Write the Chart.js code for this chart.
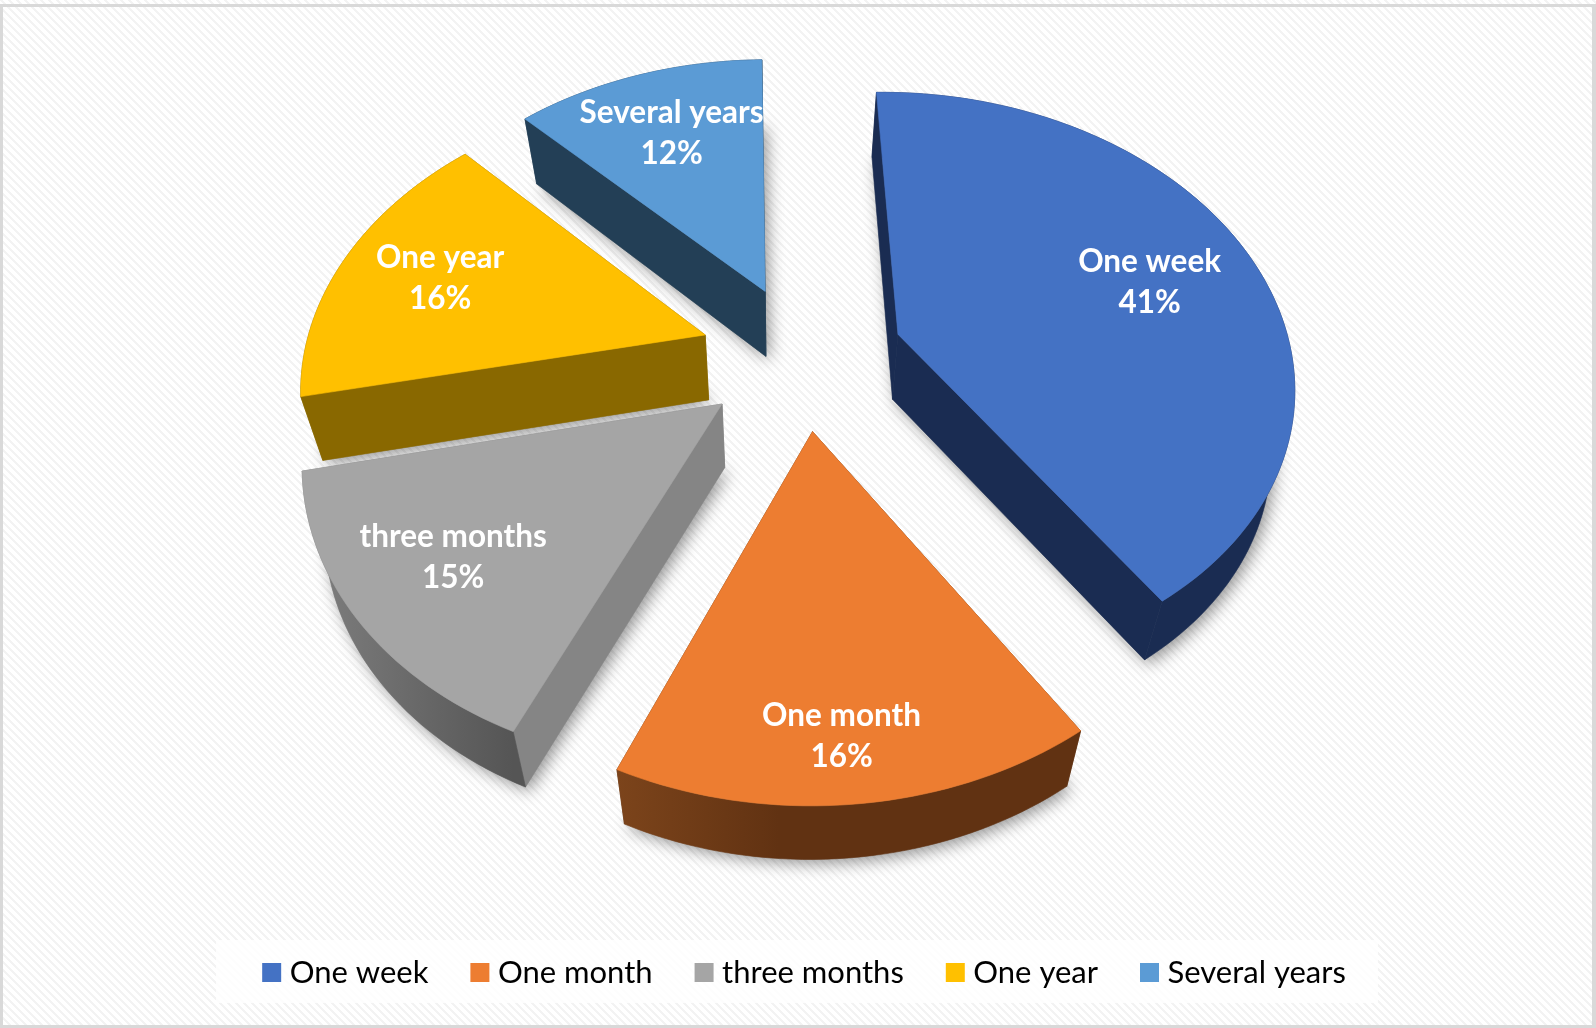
<!DOCTYPE html>
<html><head><meta charset="utf-8">
<style>html,body{margin:0;padding:0;background:#fff}canvas{display:block}</style>
<script src="https://cdn.jsdelivr.net/npm/chart.js@4/dist/chart.umd.js"></script>
</head><body>
<canvas id="c" width="1596" height="1028"></canvas>
<script>
const categories=['One week','One month','three months','One year','Several years'];
const shares=[41,16,15,16,12];
const topColors=['#4472C4','#ED7D31','#A5A5A5','#FFC000','#5B9BD5'];
const sideColors=['#1A2C52','#613212','#858585','#896800','#233F56'];
const rimColorsLeft=['#1A2C52','#7C441B','#808080','#896800','#233F56'];
const rimColorsRight=['#1A2C52','#613212','#555555','#896800','#233F56'];
const explodeOffsets=[76,76,77,78,76];
const labelRadius=[0.70,0.84,0.75,0.73,0.71];
const labelSpread=[0.51,0.52,0.52,0.5,0.5];
const paintOrder=[4,3,2,0,1];

// Perspective of the pie plane, fitted to the picture
const VIEW={cx:803.28,cy:356.05,a:397.48,b:10.12,c:-7,d:287.32,g:0.0102,h:-0.1594};
function project(u,v){
  const w=1+VIEW.g*u+VIEW.h*v;
  return [VIEW.cx+(VIEW.a*u+VIEW.b*v)/w, VIEW.cy+(VIEW.c*u+VIEW.d*v)/w];
}
function extrude(p){
  return [p[0]-0.0462*(p[0]-780), p[1]+65-0.025*Math.max(0,p[1]-350)];
}
function polyPath(ctx,pts){
  ctx.beginPath();
  pts.forEach((p,i)=>i?ctx.lineTo(p[0],p[1]):ctx.moveTo(p[0],p[1]));
  ctx.closePath();
}
function geometry(el){
  const R=el.outerRadius,m=(el.startAngle+el.endAngle)/2,o=(el.options.offset||0)/R;
  const ou=o*Math.cos(m),ov=o*Math.sin(m);
  const at=(r,t)=>project(ou+r*Math.cos(t),ov+r*Math.sin(t));
  const rim=[],n=Math.ceil((el.endAngle-el.startAngle)/0.025);
  for(let k=0;k<=n;k++)rim.push(at(1,el.startAngle+(el.endAngle-el.startAngle)*k/n));
  return {tip:at(0,0),rim,at,start:el.startAngle,end:el.endAngle};
}

const panel={
  id:'panel',
  beforeDraw(chart){
    const ctx=chart.ctx,W=chart.width,H=chart.height;
    const tile=document.createElement('canvas');tile.width=tile.height=8;
    const t=tile.getContext('2d');t.fillStyle='#fff';t.fillRect(0,0,8,8);
    for(let y=0;y<8;y++)for(let x=0;x<8;x++){
      const k=(x-y+16)%8;
      if(k<3){t.fillStyle='#f3f3f3';t.fillRect(x,y,1,1)}
    }
    ctx.save();
    ctx.fillStyle=ctx.createPattern(tile,'repeat');ctx.fillRect(0,0,W,H);
    ctx.fillStyle='rgba(255,255,255,0.8)';ctx.fillRect(216,940,1162,63);
    ctx.fillStyle='#D9D9D9';
    ctx.fillRect(0,4,W,3);ctx.fillRect(0,4,3,H-4);
    ctx.fillRect(0,H-3,W,3);ctx.fillRect(W-4,4,4,H-4);
    ctx.restore();
  }
};

const pie3d={
  id:'pie3d',
  beforeDatasetDraw(chart,args){
    const ctx=chart.ctx,els=chart.getDatasetMeta(args.index).data;
    const geo=els.map(geometry);
    ctx.save();
    ctx.lineJoin='round';
    // soft shadow cast by the underside of every slice
    geo.forEach(g=>{
      const outline=[g.tip,...g.rim].map(extrude);
      ctx.save();
      ctx.shadowColor='rgba(0,0,0,0.42)';ctx.shadowBlur=16;ctx.shadowOffsetX=4;ctx.shadowOffsetY=4;
      ctx.fillStyle='#999';polyPath(ctx,outline);ctx.fill();
      ctx.restore();
    });
    paintOrder.forEach(i=>{
      const g=geo[i],tipB=extrude(g.tip),rimB=g.rim.map(extrude);
      const first=g.rim[0],last=g.rim[g.rim.length-1];
      ctx.fillStyle=sideColors[i];ctx.strokeStyle=sideColors[i];ctx.lineWidth=0.6;
      polyPath(ctx,[g.tip,last,rimB[rimB.length-1],tipB]);ctx.fill();ctx.stroke();
      polyPath(ctx,[g.tip,first,rimB[0],tipB]);ctx.fill();ctx.stroke();
      const xs=g.rim.map(p=>p[0]),x0=Math.min(...xs),x1=Math.max(...xs);
      const grad=ctx.createLinearGradient(x0,0,x0+(x1-x0)*(i===1?0.35:1),0);
      grad.addColorStop(0,rimColorsLeft[i]);grad.addColorStop(1,rimColorsRight[i]);
      ctx.fillStyle=grad;ctx.strokeStyle=grad;
      polyPath(ctx,[...g.rim,...rimB.slice().reverse()]);ctx.fill();ctx.stroke();
      ctx.fillStyle=topColors[i];ctx.strokeStyle=topColors[i];
      polyPath(ctx,[g.tip,...g.rim]);ctx.fill();ctx.stroke();
    });
    ctx.fillStyle='#fff';ctx.font='bold 31.5px Lato';ctx.textAlign='center';ctx.textBaseline='middle';
    geo.forEach((g,i)=>{
      const p=g.at(labelRadius[i],g.start+(g.end-g.start)*labelSpread[i]);
      ctx.fillText(categories[i],p[0],p[1]-19.5);
      ctx.fillText(shares[i]+'%',p[0],p[1]+21.5);
    });
    ctx.restore();
    return false;
  }
};

new Chart(document.getElementById('c'),{
  type:'pie',
  data:{labels:categories,datasets:[{data:shares,backgroundColor:topColors,offset:explodeOffsets,borderWidth:0}]},
  options:{
    responsive:false,animation:false,radius:300,
    layout:{padding:{left:19,bottom:30}},
    plugins:{
      tooltip:{enabled:false},
      legend:{position:'bottom',labels:{
        font:{family:'Lato',size:31},color:'#0a0a0a',boxWidth:5,boxHeight:5,padding:49,
        generateLabels:()=>categories.map((text,i)=>({text,fillStyle:topColors[i],strokeStyle:topColors[i],lineWidth:14,hidden:false,index:i}))
      }}
    }
  },
  plugins:[panel,pie3d]
});
</script></body></html>
